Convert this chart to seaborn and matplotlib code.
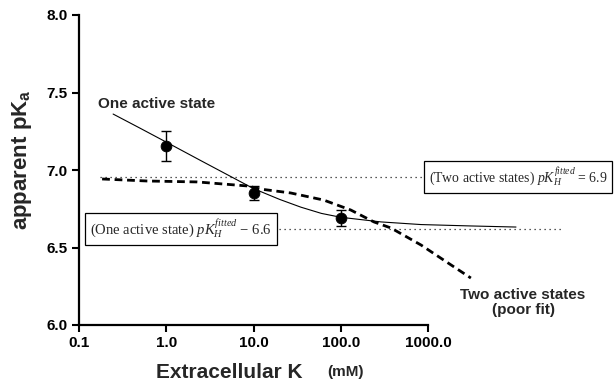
import matplotlib
matplotlib.use("Agg")
import matplotlib.pyplot as plt
import seaborn as sns
import pandas as pd

# ---- data ----
k_points = [1.0, 10.0, 100.0]
pka_points = [7.155, 6.85, 6.69]
pka_err = [0.094, 0.045, 0.05]

one_state_k = [0.246, 0.5, 1.0, 2.5, 5.0, 10.0, 20.0, 35.0, 60.0, 100.0, 290.0, 830.0, 3100.0, 10200.0]
one_state_pka = [7.361, 7.27, 7.18, 7.06, 6.97, 6.88, 6.81, 6.76, 6.72, 6.695, 6.665, 6.648, 6.639, 6.632]

two_state_k = [0.184, 0.605, 2.27, 8.53, 12.0, 26.6, 63.8, 130.0, 240.0, 376.0, 832.0, 1700.0, 3100.0]
two_state_pka = [6.942, 6.929, 6.923, 6.897, 6.877, 6.852, 6.806, 6.742, 6.665, 6.626, 6.516, 6.40, 6.303]

fitted_one = [6.62, 6.62]
fitted_one_k = [0.13, 36500.0]
fitted_two = [6.955, 6.955]
fitted_two_k = [0.175, 2000.0]

xticks = [0.1, 1, 10, 100, 1000]
xtick_labels = ["0.1", "1.0", "10.0", "100.0", "1000.0"]
yticks = [6.0, 6.5, 7.0, 7.5, 8.0]
ytick_labels = ["6.0", "6.5", "7.0", "7.5", "8.0"]

# ---- style ----
sns.set_style("ticks")
plt.rcParams['font.family'] = ['Liberation Sans', 'DejaVu Sans']
plt.rcParams['mathtext.fontset'] = 'custom'
plt.rcParams['mathtext.rm'] = 'Liberation Serif:normal'
plt.rcParams['mathtext.it'] = 'Liberation Serif:italic:normal'
plt.rcParams['mathtext.bf'] = 'Liberation Sans:bold'

fig = plt.figure(figsize=(6.15, 3.86), dpi=100)
ax = fig.add_axes([79 / 615, 1 - 325 / 386, 536 / 615, 310 / 386])

df_pts = pd.DataFrame({"k": k_points, "pka": pka_points})
df_one = pd.DataFrame({"k": one_state_k, "pka": one_state_pka})
df_two = pd.DataFrame({"k": two_state_k, "pka": two_state_pka})
df_f1 = pd.DataFrame({"k": fitted_one_k, "pka": fitted_one})
df_f2 = pd.DataFrame({"k": fitted_two_k, "pka": fitted_two})

sns.lineplot(data=df_f1, x="k", y="pka", ax=ax, color="#222222", lw=0.9,
             linestyle=(0, (1, 3)), sort=False, estimator=None, zorder=1)
sns.lineplot(data=df_f2, x="k", y="pka", ax=ax, color="#222222", lw=0.9,
             linestyle=(0, (1, 3)), sort=False, estimator=None, zorder=1)
sns.lineplot(data=df_one, x="k", y="pka", ax=ax, color="black", lw=0.8,
             sort=False, estimator=None, zorder=2)
sns.lineplot(data=df_two, x="k", y="pka", ax=ax, color="black", lw=2.0,
             linestyle=(0, (2.8, 1.7)), sort=False, estimator=None, zorder=2)

ax.errorbar(k_points, pka_points, yerr=pka_err, fmt="none", ecolor="black",
            elinewidth=1.0, capsize=3.5, capthick=1.0, zorder=3)
sns.scatterplot(data=df_pts, x="k", y="pka", ax=ax, color="black", s=60,
                edgecolor="black", zorder=4)

ax.set_xscale("log")
ax.set_xlim(0.1, 10 ** (-1 + 536 / 87.25))
ax.set_ylim(6.0, 8.0)
ax.set_xticks(xticks)
ax.set_xticklabels(xtick_labels)
ax.set_yticks(yticks)
ax.set_yticklabels(ytick_labels)
ax.minorticks_off()

for s in ["top", "right"]:
    ax.spines[s].set_visible(False)
ax.spines["bottom"].set_bounds(0.1, 1000)
ax.spines["left"].set_bounds(6.0, 8.0)
for s in ["bottom", "left"]:
    ax.spines[s].set_linewidth(1.6)
    ax.spines[s].set_color("black")
ax.tick_params(axis="both", direction="out", length=5, width=1.5,
               labelsize=11, pad=3, colors="black")
for lab in ax.get_xticklabels() + ax.get_yticklabels():
    lab.set_fontweight("bold")

ax.set_xlabel("")
ax.set_ylabel(r"apparent pK$_\mathbf{a}$", fontsize=16, fontweight="bold")
ax.yaxis.set_label_coords((22 - 79) / 536, (325 - 160) / 310)
ax.yaxis.label.set_va("center")

fig.text(229.5 / 615, 1 - 372 / 386, "Extracellular K", fontsize=15,
         fontweight="bold", ha="center", va="center")
fig.text(346 / 615, 1 - 372 / 386, "(mM)", fontsize=11,
         fontweight="bold", ha="center", va="center")

ax.text(0.783, 7.426, "One active state", fontsize=11, fontweight="bold",
        ha="center", va="center")
ax.text(12270, 6.148, "Two active states\n(poor fit)", fontsize=11,
        fontweight="bold", ha="center", va="center", linespacing=1.1,
        multialignment="center")

ax.text(0.1336, 6.618, r"(One active state) $pK_H^{fitted}$ − 6.6",
        family="Liberation Serif", fontweight="normal", fontsize=10.5,
        ha="left", va="center", zorder=6,
        bbox=dict(boxstyle="square,pad=0.35", fc="white", ec="black", lw=0.9))
ax.text(1020, 6.955, r"(Two active states) $pK_H^{fitted}$ = 6.9",
        family="Liberation Serif", fontweight="normal", fontsize=9.9,
        ha="left", va="center", zorder=6, clip_on=False,
        bbox=dict(boxstyle="square,pad=0.35", fc="white", ec="black", lw=0.9))

fig.savefig("out.png", dpi=100)
